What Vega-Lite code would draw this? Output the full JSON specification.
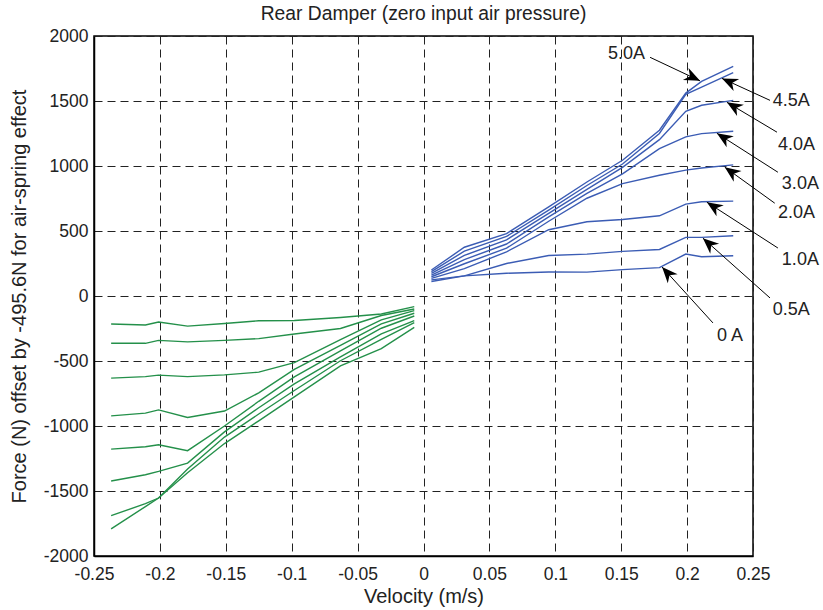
{
  "$schema": "https://vega.github.io/schema/vega-lite/v6.json",
  "width": 659,
  "height": 520,
  "autosize": {"type": "none"},
  "padding": {"left": 94, "top": 36, "right": 70, "bottom": 54},
  "background": "white",
  "title": {"text": "Rear Damper (zero input air pressure)", "fontSize": 19.3, "font": "Liberation Sans", "fontWeight": "normal", "color": "#222", "offset": 3, "anchor": "middle"},
  "config": {
    "font": "Liberation Sans",
    "view": {"stroke": "#000", "strokeWidth": 1.5},
    "axis": {
      "labelFont": "Liberation Sans", "labelFontSize": 17.5, "labelColor": "#222",
      "titleFont": "Liberation Sans", "titleFontSize": 20, "titleFontWeight": "normal", "titleColor": "#222",
      "domainColor": "#000", "domainWidth": 1.5, "ticks": false,
      "gridColor": "#222", "gridDash": [8, 5], "gridWidth": 1, "gridOpacity": 1
    }
  },
  "datasets": {
    "curves": [
      {"dir": "positive", "current": "0 A", "v": 0.006, "F": 112},
      {"dir": "positive", "current": "0 A", "v": 0.031, "F": 155},
      {"dir": "positive", "current": "0 A", "v": 0.063, "F": 175},
      {"dir": "positive", "current": "0 A", "v": 0.095, "F": 185},
      {"dir": "positive", "current": "0 A", "v": 0.124, "F": 184},
      {"dir": "positive", "current": "0 A", "v": 0.151, "F": 203},
      {"dir": "positive", "current": "0 A", "v": 0.179, "F": 218},
      {"dir": "positive", "current": "0 A", "v": 0.199, "F": 323},
      {"dir": "positive", "current": "0 A", "v": 0.211, "F": 302},
      {"dir": "positive", "current": "0 A", "v": 0.235, "F": 310},
      {"dir": "positive", "current": "0.5A", "v": 0.006, "F": 124},
      {"dir": "positive", "current": "0.5A", "v": 0.031, "F": 155},
      {"dir": "positive", "current": "0.5A", "v": 0.063, "F": 250},
      {"dir": "positive", "current": "0.5A", "v": 0.095, "F": 312},
      {"dir": "positive", "current": "0.5A", "v": 0.124, "F": 322},
      {"dir": "positive", "current": "0.5A", "v": 0.151, "F": 343},
      {"dir": "positive", "current": "0.5A", "v": 0.179, "F": 358},
      {"dir": "positive", "current": "0.5A", "v": 0.199, "F": 451},
      {"dir": "positive", "current": "0.5A", "v": 0.211, "F": 451},
      {"dir": "positive", "current": "0.5A", "v": 0.235, "F": 464},
      {"dir": "positive", "current": "1.0A", "v": 0.006, "F": 136},
      {"dir": "positive", "current": "1.0A", "v": 0.031, "F": 210},
      {"dir": "positive", "current": "1.0A", "v": 0.063, "F": 340},
      {"dir": "positive", "current": "1.0A", "v": 0.095, "F": 510},
      {"dir": "positive", "current": "1.0A", "v": 0.124, "F": 571},
      {"dir": "positive", "current": "1.0A", "v": 0.151, "F": 589},
      {"dir": "positive", "current": "1.0A", "v": 0.179, "F": 617},
      {"dir": "positive", "current": "1.0A", "v": 0.199, "F": 707},
      {"dir": "positive", "current": "1.0A", "v": 0.211, "F": 725},
      {"dir": "positive", "current": "1.0A", "v": 0.235, "F": 730},
      {"dir": "positive", "current": "2.0A", "v": 0.006, "F": 148},
      {"dir": "positive", "current": "2.0A", "v": 0.031, "F": 248},
      {"dir": "positive", "current": "2.0A", "v": 0.063, "F": 368},
      {"dir": "positive", "current": "2.0A", "v": 0.095, "F": 575},
      {"dir": "positive", "current": "2.0A", "v": 0.124, "F": 752},
      {"dir": "positive", "current": "2.0A", "v": 0.151, "F": 865},
      {"dir": "positive", "current": "2.0A", "v": 0.179, "F": 929},
      {"dir": "positive", "current": "2.0A", "v": 0.199, "F": 968},
      {"dir": "positive", "current": "2.0A", "v": 0.211, "F": 985},
      {"dir": "positive", "current": "2.0A", "v": 0.235, "F": 1009},
      {"dir": "positive", "current": "3.0A", "v": 0.006, "F": 161},
      {"dir": "positive", "current": "3.0A", "v": 0.031, "F": 280},
      {"dir": "positive", "current": "3.0A", "v": 0.063, "F": 400},
      {"dir": "positive", "current": "3.0A", "v": 0.095, "F": 608},
      {"dir": "positive", "current": "3.0A", "v": 0.124, "F": 790},
      {"dir": "positive", "current": "3.0A", "v": 0.151, "F": 940},
      {"dir": "positive", "current": "3.0A", "v": 0.179, "F": 1134},
      {"dir": "positive", "current": "3.0A", "v": 0.199, "F": 1224},
      {"dir": "positive", "current": "3.0A", "v": 0.211, "F": 1249},
      {"dir": "positive", "current": "3.0A", "v": 0.235, "F": 1267},
      {"dir": "positive", "current": "4.0A", "v": 0.006, "F": 174},
      {"dir": "positive", "current": "4.0A", "v": 0.031, "F": 312},
      {"dir": "positive", "current": "4.0A", "v": 0.063, "F": 432},
      {"dir": "positive", "current": "4.0A", "v": 0.095, "F": 635},
      {"dir": "positive", "current": "4.0A", "v": 0.124, "F": 820},
      {"dir": "positive", "current": "4.0A", "v": 0.151, "F": 990},
      {"dir": "positive", "current": "4.0A", "v": 0.179, "F": 1203},
      {"dir": "positive", "current": "4.0A", "v": 0.199, "F": 1421},
      {"dir": "positive", "current": "4.0A", "v": 0.211, "F": 1467},
      {"dir": "positive", "current": "4.0A", "v": 0.235, "F": 1505},
      {"dir": "positive", "current": "4.5A", "v": 0.006, "F": 187},
      {"dir": "positive", "current": "4.5A", "v": 0.031, "F": 345},
      {"dir": "positive", "current": "4.5A", "v": 0.063, "F": 458},
      {"dir": "positive", "current": "4.5A", "v": 0.095, "F": 660},
      {"dir": "positive", "current": "4.5A", "v": 0.124, "F": 850},
      {"dir": "positive", "current": "4.5A", "v": 0.151, "F": 1015},
      {"dir": "positive", "current": "4.5A", "v": 0.179, "F": 1250},
      {"dir": "positive", "current": "4.5A", "v": 0.199, "F": 1551},
      {"dir": "positive", "current": "4.5A", "v": 0.211, "F": 1607},
      {"dir": "positive", "current": "4.5A", "v": 0.235, "F": 1718},
      {"dir": "positive", "current": "5.0A", "v": 0.006, "F": 200},
      {"dir": "positive", "current": "5.0A", "v": 0.031, "F": 375},
      {"dir": "positive", "current": "5.0A", "v": 0.063, "F": 480},
      {"dir": "positive", "current": "5.0A", "v": 0.095, "F": 685},
      {"dir": "positive", "current": "5.0A", "v": 0.124, "F": 877},
      {"dir": "positive", "current": "5.0A", "v": 0.151, "F": 1044},
      {"dir": "positive", "current": "5.0A", "v": 0.179, "F": 1275},
      {"dir": "positive", "current": "5.0A", "v": 0.199, "F": 1561},
      {"dir": "positive", "current": "5.0A", "v": 0.211, "F": 1651},
      {"dir": "positive", "current": "5.0A", "v": 0.235, "F": 1767},
      {"dir": "negative", "current": "0 A", "v": -0.237, "F": -215},
      {"dir": "negative", "current": "0 A", "v": -0.211, "F": -223},
      {"dir": "negative", "current": "0 A", "v": -0.201, "F": -200},
      {"dir": "negative", "current": "0 A", "v": -0.179, "F": -232},
      {"dir": "negative", "current": "0 A", "v": -0.151, "F": -212},
      {"dir": "negative", "current": "0 A", "v": -0.125, "F": -190},
      {"dir": "negative", "current": "0 A", "v": -0.098, "F": -188},
      {"dir": "negative", "current": "0 A", "v": -0.063, "F": -165},
      {"dir": "negative", "current": "0 A", "v": -0.032, "F": -138},
      {"dir": "negative", "current": "0 A", "v": -0.007, "F": -82},
      {"dir": "negative", "current": "0.5A", "v": -0.237, "F": -364},
      {"dir": "negative", "current": "0.5A", "v": -0.211, "F": -364},
      {"dir": "negative", "current": "0.5A", "v": -0.201, "F": -341},
      {"dir": "negative", "current": "0.5A", "v": -0.179, "F": -353},
      {"dir": "negative", "current": "0.5A", "v": -0.151, "F": -341},
      {"dir": "negative", "current": "0.5A", "v": -0.125, "F": -328},
      {"dir": "negative", "current": "0.5A", "v": -0.098, "F": -292},
      {"dir": "negative", "current": "0.5A", "v": -0.063, "F": -250},
      {"dir": "negative", "current": "0.5A", "v": -0.032, "F": -150},
      {"dir": "negative", "current": "0.5A", "v": -0.007, "F": -100},
      {"dir": "negative", "current": "1.0A", "v": -0.237, "F": -632},
      {"dir": "negative", "current": "1.0A", "v": -0.211, "F": -620},
      {"dir": "negative", "current": "1.0A", "v": -0.201, "F": -609},
      {"dir": "negative", "current": "1.0A", "v": -0.179, "F": -620},
      {"dir": "negative", "current": "1.0A", "v": -0.151, "F": -607},
      {"dir": "negative", "current": "1.0A", "v": -0.125, "F": -586},
      {"dir": "negative", "current": "1.0A", "v": -0.098, "F": -512},
      {"dir": "negative", "current": "1.0A", "v": -0.063, "F": -335},
      {"dir": "negative", "current": "1.0A", "v": -0.032, "F": -184},
      {"dir": "negative", "current": "1.0A", "v": -0.007, "F": -113},
      {"dir": "negative", "current": "2.0A", "v": -0.237, "F": -922},
      {"dir": "negative", "current": "2.0A", "v": -0.211, "F": -901},
      {"dir": "negative", "current": "2.0A", "v": -0.201, "F": -876},
      {"dir": "negative", "current": "2.0A", "v": -0.179, "F": -934},
      {"dir": "negative", "current": "2.0A", "v": -0.151, "F": -885},
      {"dir": "negative", "current": "2.0A", "v": -0.125, "F": -745},
      {"dir": "negative", "current": "2.0A", "v": -0.098, "F": -565},
      {"dir": "negative", "current": "2.0A", "v": -0.063, "F": -380},
      {"dir": "negative", "current": "2.0A", "v": -0.032, "F": -215},
      {"dir": "negative", "current": "2.0A", "v": -0.007, "F": -133},
      {"dir": "negative", "current": "3.0A", "v": -0.237, "F": -1178},
      {"dir": "negative", "current": "3.0A", "v": -0.211, "F": -1160},
      {"dir": "negative", "current": "3.0A", "v": -0.201, "F": -1144},
      {"dir": "negative", "current": "3.0A", "v": -0.179, "F": -1190},
      {"dir": "negative", "current": "3.0A", "v": -0.151, "F": -1000},
      {"dir": "negative", "current": "3.0A", "v": -0.125, "F": -810},
      {"dir": "negative", "current": "3.0A", "v": -0.098, "F": -622},
      {"dir": "negative", "current": "3.0A", "v": -0.063, "F": -422},
      {"dir": "negative", "current": "3.0A", "v": -0.032, "F": -248},
      {"dir": "negative", "current": "3.0A", "v": -0.007, "F": -154},
      {"dir": "negative", "current": "4.0A", "v": -0.237, "F": -1423},
      {"dir": "negative", "current": "4.0A", "v": -0.211, "F": -1375},
      {"dir": "negative", "current": "4.0A", "v": -0.201, "F": -1349},
      {"dir": "negative", "current": "4.0A", "v": -0.179, "F": -1285},
      {"dir": "negative", "current": "4.0A", "v": -0.151, "F": -1045},
      {"dir": "negative", "current": "4.0A", "v": -0.125, "F": -860},
      {"dir": "negative", "current": "4.0A", "v": -0.098, "F": -676},
      {"dir": "negative", "current": "4.0A", "v": -0.063, "F": -468},
      {"dir": "negative", "current": "4.0A", "v": -0.032, "F": -292},
      {"dir": "negative", "current": "4.0A", "v": -0.007, "F": -190},
      {"dir": "negative", "current": "4.5A", "v": -0.237, "F": -1690},
      {"dir": "negative", "current": "4.5A", "v": -0.211, "F": -1597},
      {"dir": "negative", "current": "4.5A", "v": -0.201, "F": -1554},
      {"dir": "negative", "current": "4.5A", "v": -0.179, "F": -1330},
      {"dir": "negative", "current": "4.5A", "v": -0.151, "F": -1085},
      {"dir": "negative", "current": "4.5A", "v": -0.125, "F": -908},
      {"dir": "negative", "current": "4.5A", "v": -0.098, "F": -727},
      {"dir": "negative", "current": "4.5A", "v": -0.063, "F": -498},
      {"dir": "negative", "current": "4.5A", "v": -0.032, "F": -333},
      {"dir": "negative", "current": "4.5A", "v": -0.007, "F": -205},
      {"dir": "negative", "current": "5.0A", "v": -0.237, "F": -1792},
      {"dir": "negative", "current": "5.0A", "v": -0.211, "F": -1620},
      {"dir": "negative", "current": "5.0A", "v": -0.201, "F": -1554},
      {"dir": "negative", "current": "5.0A", "v": -0.179, "F": -1360},
      {"dir": "negative", "current": "5.0A", "v": -0.151, "F": -1135},
      {"dir": "negative", "current": "5.0A", "v": -0.125, "F": -960},
      {"dir": "negative", "current": "5.0A", "v": -0.098, "F": -776},
      {"dir": "negative", "current": "5.0A", "v": -0.063, "F": -537},
      {"dir": "negative", "current": "5.0A", "v": -0.032, "F": -405},
      {"dir": "negative", "current": "5.0A", "v": -0.007, "F": -241}
    ],
    "arrows": [
      {"label": "5.0A", "lv": 0.140, "lF": 1859, "v": 0.1719, "F": 1836, "v2": 0.2098, "F2": 1655},
      {"label": "4.5A", "lv": 0.265, "lF": 1498, "v": 0.2629, "F": 1505, "v2": 0.2265, "F2": 1674},
      {"label": "4.0A", "lv": 0.2689, "lF": 1160, "v": 0.2682, "F": 1260, "v2": 0.2302, "F2": 1490},
      {"label": "3.0A", "lv": 0.2719, "lF": 860, "v": 0.2689, "F": 952, "v2": 0.2226, "F2": 1252},
      {"label": "2.0A", "lv": 0.2689, "lF": 637, "v": 0.2665, "F": 714, "v2": 0.2286, "F2": 991},
      {"label": "1.0A", "lv": 0.2719, "lF": 276, "v": 0.2689, "F": 369, "v2": 0.2150, "F2": 722},
      {"label": "0.5A", "lv": 0.265, "lF": -108, "v": 0.2629, "F": -15, "v2": 0.2120, "F2": 445},
      {"label": "0 A", "lv": 0.2226, "lF": -307, "v": 0.2196, "F": -207, "v2": 0.1810, "F2": 223}
    ]
  },
  "layer": [
    {
      "data": {"name": "curves"},
      "mark": {"type": "line", "strokeWidth": 1.4},
      "encoding": {
        "x": {"field": "v", "type": "quantitative",
              "scale": {"domain": [-0.25, 0.25], "nice": false, "zero": false},
              "axis": {"values": [-0.25, -0.2, -0.15, -0.1, -0.05, 0, 0.05, 0.1, 0.15, 0.2, 0.25],
                       "labelExpr": "'' + datum.value", "title": "Velocity (m/s)",
                       "labelPadding": 9, "titlePadding": 4, "grid": true, "labelFlush": false}},
        "y": {"field": "F", "type": "quantitative",
              "scale": {"domain": [-2000, 2000], "nice": false, "zero": false},
              "axis": {"values": [-2000, -1500, -1000, -500, 0, 500, 1000, 1500, 2000],
                       "labelExpr": "'' + datum.value", "title": "Force (N) offset by -495.6N for air-spring effect",
                       "labelPadding": 6, "titlePadding": 14, "grid": true}},
        "color": {"field": "dir", "type": "nominal",
                  "scale": {"domain": ["positive", "negative"], "range": ["#3b5cb4", "#24904a"]}, "legend": null},
        "detail": {"field": "current"}
      }
    },
    {
      "data": {"name": "arrows"},
      "mark": {"type": "rule", "color": "#000", "strokeWidth": 1},
      "encoding": {
        "x": {"field": "v", "type": "quantitative"},
        "y": {"field": "F", "type": "quantitative"},
        "x2": {"field": "v2"},
        "y2": {"field": "F2"}
      }
    },
    {
      "data": {"name": "arrows"},
      "transform": [{"calculate": "(atan2(-(datum.F2 - datum.F) * 0.13, (datum.v2 - datum.v) * 1318) * 180 / PI + 360) % 360", "as": "ang"}],
      "mark": {"type": "point", "shape": "M0,0L-1,-0.42L-0.7,0L-1,0.42Z", "filled": true, "color": "#000", "size": 1000, "opacity": 1, "strokeWidth": 0},
      "encoding": {
        "x": {"field": "v2", "type": "quantitative"},
        "y": {"field": "F2", "type": "quantitative"},
        "angle": {"field": "ang", "type": "quantitative", "scale": null}
      }
    },
    {
      "data": {"name": "arrows"},
      "mark": {"type": "text", "fontSize": 18, "align": "left", "baseline": "middle", "color": "#222", "font": "Liberation Sans"},
      "encoding": {
        "x": {"field": "lv", "type": "quantitative"},
        "y": {"field": "lF", "type": "quantitative"},
        "text": {"field": "label"}
      }
    }
  ]
}
